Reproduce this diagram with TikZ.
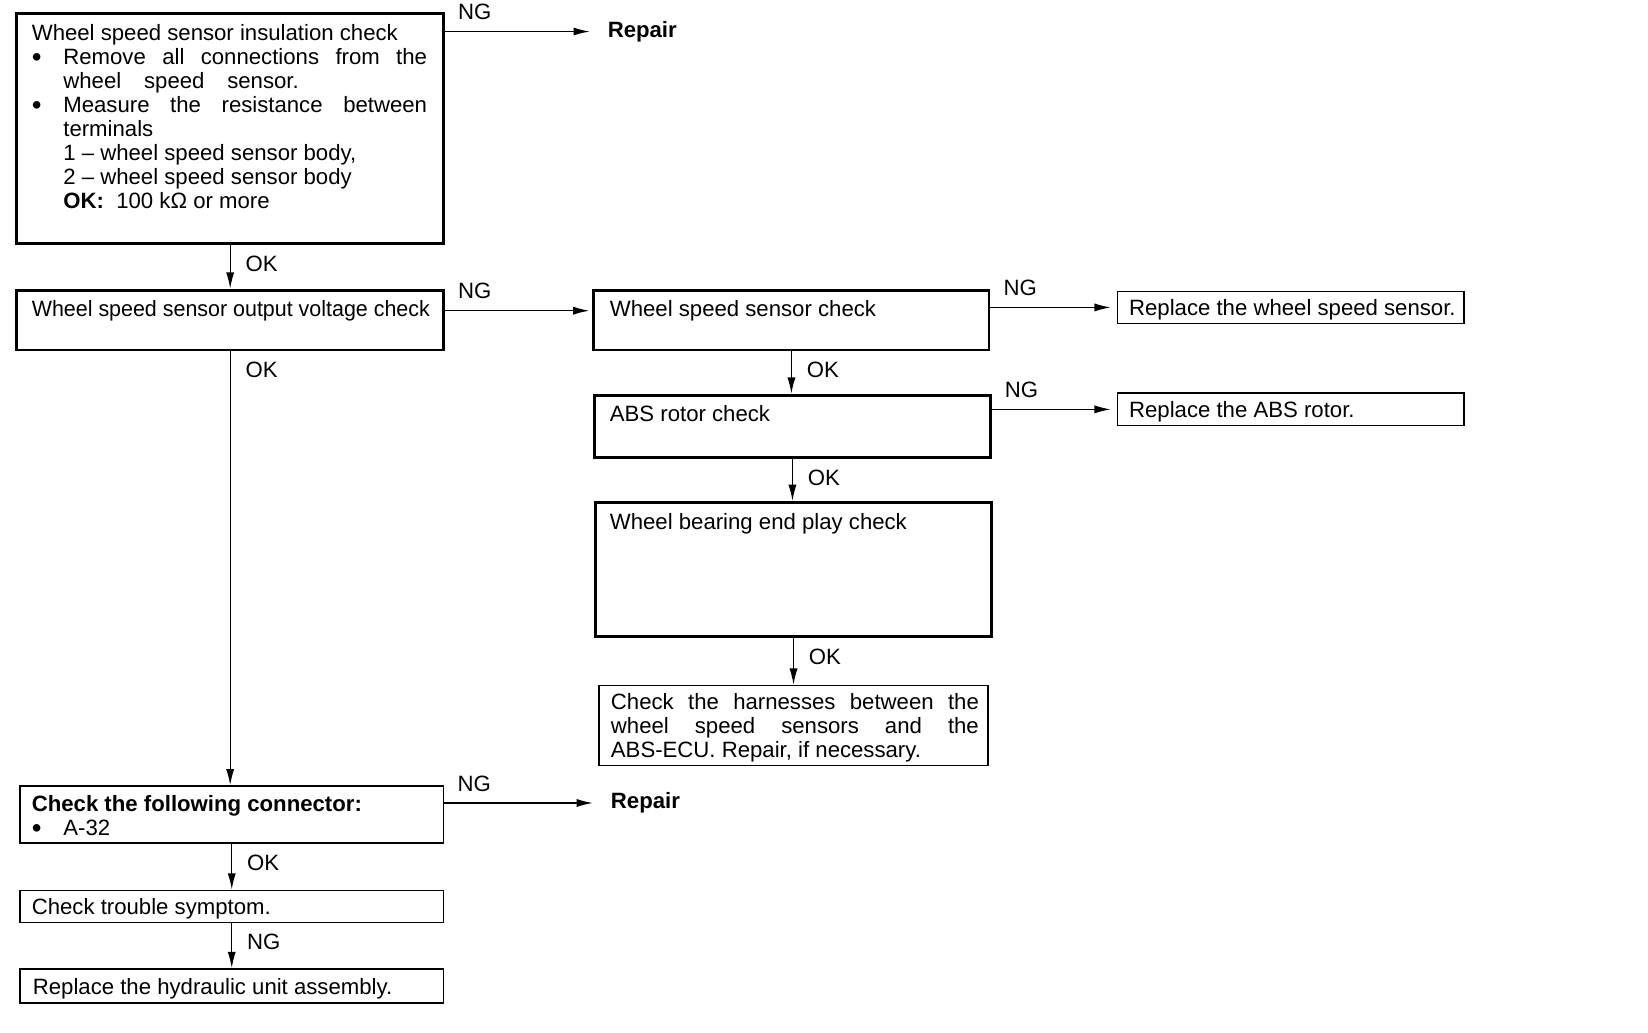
\documentclass[tikz,border=0pt]{standalone}
\usepackage{fontspec}
\setmainfont{Liberation Sans}
\usepackage{graphicx}
\usetikzlibrary{arrows.meta,fit}

\newcommand{\blt}{\makebox[0.75cm][l]{\smash{\raisebox{-0.2ex}{\scalebox{1.25}{\textbullet}}}}}
\newcommand{\ind}{\hspace*{0.75cm}}

\begin{document}
\begin{tikzpicture}[x=0.025cm, y=-0.025cm,
  font=\fontsize{15}{16.3}\selectfont,
  txt/.style={anchor=north west, inner sep=0pt, align=left},
  arr/.style={-{Latex[length=11pt,width=5.5pt]}, line width=0.9pt},
  hlab/.style={pos=0, anchor=south west, inner sep=0pt, xshift=8.5pt, yshift=7.5pt},
  vlab/.style={pos=0, anchor=north west, inner sep=0pt, xshift=10pt, yshift=-7pt}]
\useasboundingbox (0,0) rectangle (1568,982);

% boxes
\foreach \n/\w/\l/\t/\r/\b in {b1/2/16/13/422/232, b2/2/16/276/422/333,
    b3/2/565/276/941/333, b4/2/566/376/942/435, b5/2/567/478/943/606,
    b6/0.8/570/652/940/728, b7/1.2/19/748/422/802, b8/0.8/19/847/422/878,
    b9/1.2/19/922/422/954, r3/0.8/1063/277/1393/308, r4/0.8/1063/374/1393/405}
  \node[draw, line width=\w pt, inner sep=0pt, fit={(\l,\t) (\r,\b)}] (\n) {};

% texts
\node[txt] (t1) at (30,22.5) {Wheel speed sensor insulation check\\
  \blt\makebox[8.65cm][s]{Remove all connections from the}\\
  \ind\makebox[5.6cm][s]{wheel speed sensor.}\\
  \blt\makebox[8.65cm][s]{Measure the resistance between}\\
  \ind terminals\\
  \ind 1 – wheel speed sensor body,\\
  \ind 2 – wheel speed sensor body\\
  \ind\textbf{OK:}\ \ 100 kΩ or more};
\node[txt] (t2) at (30,285.5) {\scalebox{0.967}[1]{Wheel speed sensor output voltage check}};
\node[txt] (t3) at (580,285.5) {Wheel speed sensor check};
\node[txt] (t4) at (580,385.5) {ABS rotor check};
\node[txt] (t5) at (580,488.5) {Wheel bearing end play check};
\node[txt] (t6) at (581,659.5) {\makebox[8.75cm][s]{Check the harnesses between the}\\
  \makebox[8.75cm][s]{wheel speed sensors and the}\\
  ABS-ECU. Repair, if necessary.};
\node[txt] (t7) at (30,756.5) {\textbf{Check the following connector:}\\ \blt A-32};
\node[txt] (t8) at (30,854.5) {Check trouble symptom.};
\node[txt] (t9) at (31,930.5) {Replace the hydraulic unit assembly.};
\node[txt] (rt3) at (1074,284.5) {Replace the wheel speed sensor.};
\node[txt] (rt4) at (1074,381.5) {Replace the ABS rotor.};
\node[anchor=west, inner sep=0pt] (rep1) at (578,30) {\textbf{Repair}};
\node[anchor=west, inner sep=0pt] (rep7) at (581,764) {\textbf{Repair}};

% NG branches
\draw[arr, shorten >=12pt] (b1.east |- rep1) -- node[hlab]{NG} (rep1);
\draw[arr, shorten >=2pt] (b2.east |- t2) -- node[hlab]{NG} (b3.west |- t2);
\draw[arr, shorten >=4pt] (b3.east |- r3) -- node[hlab]{NG} (r3);
\draw[arr, shorten >=4pt] (b4.east |- r4) -- node[hlab]{NG} (r4);
\draw[arr, shorten >=12pt] (b7.east |- rep7) -- node[hlab]{NG} (rep7);

% downward flow
\foreach \a/\b/\t in {b1/b2/OK, b2/b7/OK, b3/b4/OK, b4/b5/OK, b5/b6/OK, b7/b8/OK, b8/b9/NG}
  \draw[arr] (\a.south) -- node[vlab]{\t} (\a.south |- \b.north);
\end{tikzpicture}
\end{document}
